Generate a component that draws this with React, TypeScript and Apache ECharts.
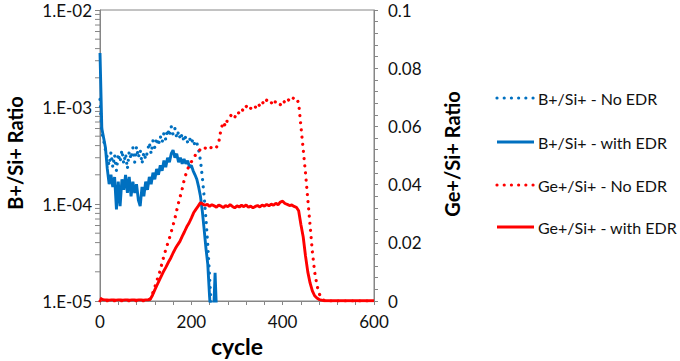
import React, { useEffect, useRef } from "react";
import * as echarts from "echarts";

// B+/Si+ ratio (left, log axis), one value every 4 cycles starting at cycle 0
const bNoEdr = [
  1.2e-3, 5.5e-4, 4.5e-4, 3.6e-4, 3.0e-4, 2.5e-4, 3.4e-4, 2.4e-4, 3.2e-4, 2.2e-4,
  3.3e-4, 2.7e-4, 3.6e-4, 2.6e-4, 3.3e-4, 2.3e-4, 3.5e-4, 2.9e-4, 3.8e-4, 2.7e-4,
  3.9e-4, 3.0e-4, 3.6e-4, 2.6e-4, 3.4e-4, 2.9e-4, 3.5e-4, 4.3e-4, 3.3e-4, 4.5e-4,
  3.8e-4, 4.8e-4, 4.0e-4, 5.0e-4, 4.3e-4, 5.4e-4, 4.6e-4, 5.9e-4, 5.0e-4, 6.3e-4,
  5.2e-4, 6.0e-4, 4.8e-4, 5.6e-4, 4.6e-4, 5.3e-4, 4.4e-4, 5.0e-4, 4.3e-4, 4.8e-4,
  4.2e-4, 4.7e-4, 4.0e-4, 4.3e-4, 3.6e-4, 2.8e-4, 1.9e-4, 1.2e-4, 7.0e-5, 3.8e-5,
  1.8e-5, 8e-6, 6e-6,
];
const bWithEdr = [
  3.6e-3, 6.0e-4, 4.8e-4, 3.8e-4, 2.3e-4, 1.6e-4, 2.0e-4, 1.5e-4, 1.9e-4, 8.8e-5,
  1.7e-4, 9.5e-5, 1.8e-4, 1.4e-4, 2.0e-4, 1.3e-4, 1.9e-4, 1.2e-4, 1.7e-4, 1.3e-4,
  1.6e-4, 1.1e-4, 9.5e-5, 1.5e-4, 1.2e-4, 1.7e-4, 1.4e-4, 1.9e-4, 1.6e-4, 2.1e-4,
  1.8e-4, 2.3e-4, 2.0e-4, 2.5e-4, 2.2e-4, 2.8e-4, 2.4e-4, 3.0e-4, 2.7e-4, 3.3e-4,
  3.6e-4, 3.0e-4, 3.3e-4, 2.7e-4, 3.0e-4, 2.6e-4, 2.9e-4, 2.6e-4, 2.8e-4, 2.4e-4,
  2.5e-4, 2.2e-4, 2.0e-4, 1.8e-4, 1.5e-4, 1.2e-4, 8.5e-5, 5.5e-5, 3.5e-5, 2.4e-5,
  1.1e-5, 6e-6, 6e-6, 1.95e-5, 6e-6,
];
const bStep = 4;

// Ge+/Si+ ratio (right, linear axis), one value every 5 cycles from 0 to 600
const geNoEdr = [
  0, 0, 0, 0, 0, 0, 0, 0, 0, 0, 0, 0, 0, 0, 0, 0, 0, 0, 0, 0, 0, 0,
  0.0008, 0.0025, 0.0048, 0.0072, 0.0095, 0.0125, 0.0155, 0.0182, 0.0205, 0.0232,
  0.026, 0.029, 0.0325, 0.0355, 0.0385, 0.042, 0.0445, 0.0465, 0.0478, 0.049,
  0.0505, 0.0512, 0.0522, 0.0518, 0.0526, 0.0522, 0.053, 0.0525, 0.0532, 0.0528,
  0.0545, 0.059, 0.0615, 0.06, 0.0628, 0.0635, 0.0642, 0.063, 0.065, 0.0645,
  0.066, 0.0652, 0.0668, 0.0675, 0.0662, 0.0672, 0.0665, 0.068, 0.067, 0.0685,
  0.0675, 0.069, 0.0678, 0.0682, 0.0672, 0.0688, 0.068, 0.0675, 0.069, 0.0682,
  0.0695, 0.0688, 0.07, 0.0695, 0.0698, 0.068, 0.06, 0.052, 0.044, 0.035,
  0.026, 0.017, 0.01, 0.0055, 0.0025, 0.001, 0.0003,
  0, 0, 0, 0, 0, 0, 0, 0, 0, 0, 0, 0, 0, 0, 0, 0, 0, 0, 0, 0, 0, 0,
];
const geWithEdr = [
  0.001, 0.0005,
  0.0004, 0.0004, 0.0003, 0.0004, 0.0004, 0.0003, 0.0004, 0.0004, 0.0003, 0.0004,
  0.0004, 0.0003, 0.0004, 0.0004, 0.0003, 0.0004, 0.0004, 0.0003, 0.0004, 0.0004,
  0.0006, 0.002, 0.0038, 0.0055, 0.0072, 0.0088, 0.0104, 0.0118, 0.0134, 0.0148,
  0.0165, 0.018, 0.0193, 0.0205, 0.0222, 0.0238, 0.0255, 0.0268, 0.0285, 0.0303,
  0.0315, 0.0326, 0.0338, 0.0333, 0.0329, 0.0332, 0.0325, 0.0331, 0.0327, 0.0322,
  0.033, 0.0326, 0.0321, 0.0328, 0.0324, 0.0331, 0.0325, 0.032, 0.0327, 0.0323,
  0.0329, 0.0324, 0.033, 0.0322, 0.0326, 0.032, 0.0325, 0.0328, 0.0323, 0.033,
  0.0326, 0.0332, 0.0327, 0.0333, 0.0329, 0.0336, 0.0331, 0.034, 0.0343, 0.0335,
  0.0332, 0.0328, 0.033, 0.0325, 0.0322, 0.031, 0.0262, 0.022, 0.0155, 0.01,
  0.0062, 0.0035, 0.0018, 0.001, 0.0005, 0.0003,
  0.0001, 0.0001, 0.0001, 0.0001, 0.0001, 0.0001, 0.0001, 0.0001, 0.0001, 0.0001,
  0.0001, 0.0001, 0.0001, 0.0001, 0.0001, 0.0001, 0.0001, 0.0001, 0.0001, 0.0001,
  0.0001, 0.0001, 0.0001,
];
const geStep = 5;

const seriesNames = [
  "B+/Si+ - No EDR",
  "B+/Si+ - with EDR",
  "Ge+/Si+ - No EDR",
  "Ge+/Si+ - with EDR",
];
const xTickLabels = [0, 200, 400, 600];
const leftTitle = "B+/Si+ Ratio";
const rightTitle = "Ge+/Si+ Ratio";
const bottomTitle = "cycle";

// log-axis minor tick positions (2..9 within each decade)
const logMinorTicks: number[] = [];
[1e-5, 1e-4, 1e-3].forEach((d) => {
  for (let k = 2; k <= 9; k++) logMinorTicks.push(k * d);
});

const BLUE = "#0070C0";
const RED = "#FF0000";
const AXIS = "#868686";
const FONT = "Lato";
const DOT_DASH = [0.01, 7.2];
const LINE_W = 2.9;
const DOT_W = 3.2;

export default function App() {
  const ref = useRef<HTMLDivElement>(null);
  useEffect(() => {
    if (!ref.current) return;
    const chart = echarts.init(ref.current, undefined, { renderer: "svg" });
    const pairs = (arr: number[], step: number) => arr.map((v, i) => [i * step, v]);
    const dotted = { width: DOT_W, type: DOT_DASH, cap: "round" as const };
    const solid = { width: LINE_W, type: "solid" as const };
    const legendColors = [BLUE, BLUE, RED, RED];
    const legendDotted = [true, false, true, false];
    const legendRows = [98, 142, 185, 227];
    const legendGraphics: any[] = [];
    seriesNames.forEach((name, i) => {
      legendGraphics.push({
        type: "line",
        shape: { x1: 497, y1: legendRows[i], x2: 534, y2: legendRows[i] },
        style: legendDotted[i]
          ? { stroke: legendColors[i], lineWidth: DOT_W, lineDash: DOT_DASH, lineCap: "round" }
          : { stroke: legendColors[i], lineWidth: LINE_W },
      });
      legendGraphics.push({
        type: "text",
        x: 538,
        y: legendRows[i],
        style: {
          text: name,
          fontFamily: FONT,
          fontSize: 16,
          fill: "#111",
          align: "left",
          verticalAlign: "middle",
        },
      });
    });
    const option: any = {
      animation: false,
      grid: {
        left: 100,
        right: 306,
        top: 10,
        bottom: 60,
        show: true,
        borderColor: AXIS,
        borderWidth: 1,
        backgroundColor: "transparent",
      },
      xAxis: {
        type: "value",
        min: 0,
        max: 600,
        interval: 200,
        axisLine: { show: true, lineStyle: { color: AXIS } },
        axisTick: { show: true, length: 4, lineStyle: { color: AXIS } },
        minorTick: { show: true, splitNumber: 5, length: 4, lineStyle: { color: AXIS } },
        splitLine: { show: false },
        axisLabel: {
          margin: 12,
          fontFamily: FONT,
          fontSize: 17,
          color: "#111",
          formatter: (v: number) => (xTickLabels.includes(v) ? String(v) : ""),
        },
      },
      yAxis: [
        {
          type: "log",
          logBase: 10,
          min: 1e-5,
          max: 1e-2,
          position: "left",
          axisLine: { show: true, lineStyle: { color: AXIS } },
          axisTick: { show: true, length: 5, lineStyle: { color: AXIS } },
          splitLine: { show: false },
          axisLabel: {
            margin: 8,
            fontFamily: FONT,
            fontSize: 17,
            color: "#111",
            formatter: (v: number) => {
              const e = Math.round(-Math.log10(v));
              return "1.E-" + String(e).padStart(2, "0");
            },
          },
        },
        {
          type: "value",
          min: 0,
          max: 0.1,
          interval: 0.02,
          position: "right",
          axisLine: { show: true, lineStyle: { color: AXIS } },
          axisTick: { show: true, length: 4, lineStyle: { color: AXIS } },
          minorTick: { show: true, splitNumber: 5, length: 4, lineStyle: { color: AXIS } },
          splitLine: { show: false },
          axisLabel: {
            margin: 14,
            fontFamily: FONT,
            fontSize: 17,
            color: "#111",
            formatter: (v: number) => String(parseFloat(v.toFixed(3))),
          },
        },
      ],
      series: [
        {
          name: seriesNames[0],
          type: "line",
          yAxisIndex: 0,
          symbol: "none",
          data: pairs(bNoEdr, bStep),
          lineStyle: { ...dotted, color: BLUE },
          itemStyle: { color: BLUE },
        },
        {
          name: seriesNames[1],
          type: "line",
          yAxisIndex: 0,
          symbol: "none",
          data: pairs(bWithEdr, bStep),
          lineStyle: { ...solid, color: BLUE },
          itemStyle: { color: BLUE },
        },
        {
          name: seriesNames[2],
          type: "line",
          yAxisIndex: 1,
          symbol: "none",
          data: pairs(geNoEdr, geStep),
          lineStyle: { ...dotted, color: RED },
          itemStyle: { color: RED },
        },
        {
          name: seriesNames[3],
          type: "line",
          yAxisIndex: 1,
          symbol: "none",
          data: pairs(geWithEdr, geStep),
          lineStyle: { ...solid, color: RED },
          itemStyle: { color: RED },
        },
        {
          name: "logMinorTicks",
          type: "custom",
          xAxisIndex: 0,
          yAxisIndex: 0,
          silent: true,
          data: logMinorTicks.map((v) => [0, v]),
          renderItem: (_params: any, api: any) => {
            const p = api.coord([0, api.value(1)]);
            return {
              type: "line",
              shape: { x1: p[0] - 5, y1: p[1], x2: p[0], y2: p[1] },
              style: { stroke: AXIS, lineWidth: 1 },
            };
          },
        },
      ],
      graphic: [
        ...legendGraphics,
        {
          type: "text",
          x: 15,
          y: 153,
          rotation: Math.PI / 2,
          style: {
            text: leftTitle,
            fontFamily: FONT,
            fontWeight: "bold",
            fontSize: 20,
            fill: "#000",
            align: "center",
            verticalAlign: "middle",
          },
        },
        {
          type: "text",
          x: 452,
          y: 154,
          rotation: Math.PI / 2,
          style: {
            text: rightTitle,
            fontFamily: FONT,
            fontWeight: "bold",
            fontSize: 20,
            fill: "#000",
            align: "center",
            verticalAlign: "middle",
          },
        },
        {
          type: "text",
          x: 237,
          y: 346,
          style: {
            text: bottomTitle,
            fontFamily: FONT,
            fontWeight: "bold",
            fontSize: 23,
            fill: "#000",
            align: "center",
            verticalAlign: "middle",
          },
        },
      ],
    };
    chart.setOption(option);
    return () => chart.dispose();
  }, []);
  return (
    <div
      ref={ref}
      style={{ position: "fixed", left: 0, top: 0, width: 680, height: 361, background: "#fff" }}
    />
  );
}
